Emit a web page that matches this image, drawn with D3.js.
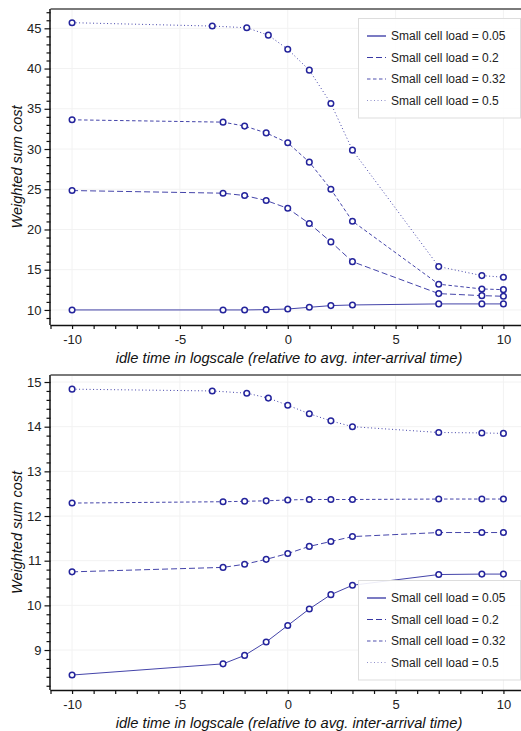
<!DOCTYPE html>
<html><head><meta charset="utf-8">
<script src="https://cdn.jsdelivr.net/npm/d3@7"></script>
<style>body{margin:0;background:#fff}svg{display:block}text{font-family:"Liberation Sans",Arial,Helvetica,sans-serif}</style>
</head><body><svg id="c" width="521" height="731"></svg>
<script>
const loads = ["0.05","0.2","0.32","0.5"];
const xCommon = [-10,-3,-2,-1,0,1,2,3,7,9,10];
const xLoad05 = [-10,-3.5,-1.9,-0.9,0,1,2,3,7,9,10];
const xMajorTicks = [-10,-5,0,5,10];
// Top panel values
const top005 = [10.0,10.0,10.0,10.04,10.12,10.33,10.54,10.62,10.75,10.75,10.75];
const top02  = [24.84,24.51,24.22,23.6,22.63,20.74,18.46,16.0,12.03,11.78,11.7];
const top032 = [33.63,33.34,32.85,32.0,30.77,28.37,25.0,21.03,13.2,12.61,12.52];
const top05  = [45.7,45.28,45.07,44.15,42.4,39.8,35.66,29.86,15.39,14.27,14.07];
const topYTicks = [10,15,20,25,30,35,40,45];
// Bottom panel values
const bot005 = [8.44,8.69,8.88,9.18,9.55,9.92,10.24,10.45,10.69,10.70,10.70];
const bot02  = [10.75,10.85,10.92,11.03,11.16,11.32,11.43,11.54,11.63,11.63,11.63];
const bot032 = [12.29,12.32,12.33,12.34,12.36,12.37,12.37,12.37,12.38,12.38,12.38];
const bot05  = [14.84,14.80,14.75,14.64,14.48,14.29,14.13,14.0,13.87,13.86,13.85];
const botYTicks = [9,10,11,12,13,14,15];

const xTitle = "idle time in logscale (relative to avg. inter-arrival time)";
const yTitle = "Weighted sum cost";
const dashes = [null,"6,3","3.5,2.5","1,2.5"];
const lineColor = "#23239a";

const svg = d3.select("#c");
const x = d3.scaleLinear().domain([-11,11]).range([50.5,525]);

function panel(cfg){
  const y = d3.scaleLinear().domain(cfg.yDomain).range([cfg.bottom, cfg.top]);
  const g = svg.append("g");
  // grid
  g.selectAll(".gx").data(xMajorTicks).enter().append("line")
    .attr("x1",d=>x(d)).attr("x2",d=>x(d)).attr("y1",cfg.top).attr("y2",cfg.bottom)
    .attr("stroke","#f2f2f2").attr("stroke-width",1);
  g.selectAll(".gy").data(cfg.yTicks).enter().append("line")
    .attr("x1",x.range()[0]).attr("x2",521).attr("y1",d=>y(d)).attr("y2",d=>y(d))
    .attr("stroke","#f2f2f2").attr("stroke-width",1);
  // top border
  g.append("line").attr("x1",x.range()[0]).attr("x2",521).attr("y1",cfg.top).attr("y2",cfg.top)
    .attr("stroke","#7a7a7a").attr("stroke-width",2);
  // series
  const series = cfg.series;
  const xs = [xCommon,xCommon,xCommon,xLoad05];
  series.forEach((vals,i)=>{
    const pts = vals.map((v,j)=>[xs[i][j],v]);
    const line = d3.line().x(d=>x(d[0])).y(d=>y(d[1]));
    g.append("path").attr("d",line(pts)).attr("fill","none")
      .attr("stroke",lineColor).attr("stroke-opacity",0.85).attr("stroke-width",1)
      .attr("stroke-dasharray",dashes[i]);
  });
  series.forEach((vals,i)=>{
    g.selectAll(null).data(vals.map((v,j)=>[xs[i][j],v])).enter().append("circle")
      .attr("cx",d=>x(d[0])).attr("cy",d=>y(d[1])).attr("r",2.8)
      .attr("fill","#fff").attr("stroke","#24249c").attr("stroke-width",1.5);
  });
  // x axis
  const xAxis = d3.axisBottom(x).tickValues(d3.range(-11,12,1)).tickSize(4)
    .tickFormat(d=>xMajorTicks.includes(d)? d3.format("d")(d) : "");
  const ax = g.append("g").attr("transform",`translate(0,${cfg.bottom})`).call(xAxis);
  ax.select(".domain").attr("stroke","#111").attr("stroke-width",1.5).attr("d",`M${x.range()[0]},0.5H521`);
  ax.selectAll(".tick line").attr("stroke","#111").attr("stroke-width",1.2);
  ax.selectAll(".tick text").attr("font-size",13).attr("fill","#222").attr("dy","0.95em")
    .text(d=>xMajorTicks.includes(d)? (d<0? "-"+Math.abs(d): String(d)) : "");
  // y axis
  const yAxis = d3.axisLeft(y).tickValues(cfg.yMinor).tickSize(4)
    .tickFormat(d=>cfg.yTicks.some(t=>Math.abs(t-d)<1e-6)? String(Math.round(d)) : "");
  const ay = g.append("g").attr("transform",`translate(${x.range()[0]},0)`).call(yAxis);
  ay.select(".domain").attr("stroke","#111").attr("stroke-width",1.5).attr("d",`M-0.5,${cfg.top}V${cfg.bottom}`);
  ay.selectAll(".tick line").attr("stroke","#111").attr("stroke-width",1.2)
    .attr("x2",d=>cfg.yTicks.some(t=>Math.abs(t-d)<1e-6)? -6 : -4);
  ay.selectAll(".tick text").attr("font-size",13).attr("fill","#222").attr("x",-9);
  // titles
  g.append("text").attr("x",289).attr("y",cfg.bottom+37.5).attr("text-anchor","middle")
    .attr("font-size",14.7).attr("font-style","italic").attr("fill","#111").text(xTitle);
  g.append("text").attr("transform",`translate(21.5,${(cfg.top+cfg.bottom)/2}) rotate(-90)`)
    .attr("text-anchor","middle").attr("font-size",14.5).attr("font-style","italic").attr("fill","#111").text(yTitle);
  // legend
  const lg = g.append("g").attr("transform",`translate(358.5,${cfg.legendTop})`);
  lg.append("rect").attr("x",0).attr("y",0).attr("width",162).attr("height",99.5)
    .attr("fill","#fff").attr("fill-opacity",0.9).attr("stroke","#dddddd").attr("stroke-width",1);
  loads.forEach((l,i)=>{
    const yy = 17.5 + i*21.5;
    lg.append("line").attr("x1",8.5).attr("x2",27.5).attr("y1",yy).attr("y2",yy)
      .attr("stroke",lineColor).attr("stroke-opacity",[1,0.9,0.8,0.5][i]).attr("stroke-width",1.2)
      .attr("stroke-dasharray",dashes[i]);
    lg.append("text").attr("x",32.5).attr("y",yy).attr("dy","0.35em").attr("font-size",12)
      .attr("fill","#222").text("Small cell load = "+l);
  });
}

panel({top:9,bottom:325,yDomain:[8.13,47.4],yTicks:topYTicks,yMinor:d3.range(9,48,1),
  series:[top005,top02,top032,top05],legendTop:18.5});
panel({top:375,bottom:690,yDomain:[8.105,15.157],yTicks:botYTicks,
  yMinor:d3.range(41,76,1).map(d=>+(d*0.2).toFixed(1)),
  series:[bot005,bot02,bot032,bot05],legendTop:580.5});
</script></body></html>
